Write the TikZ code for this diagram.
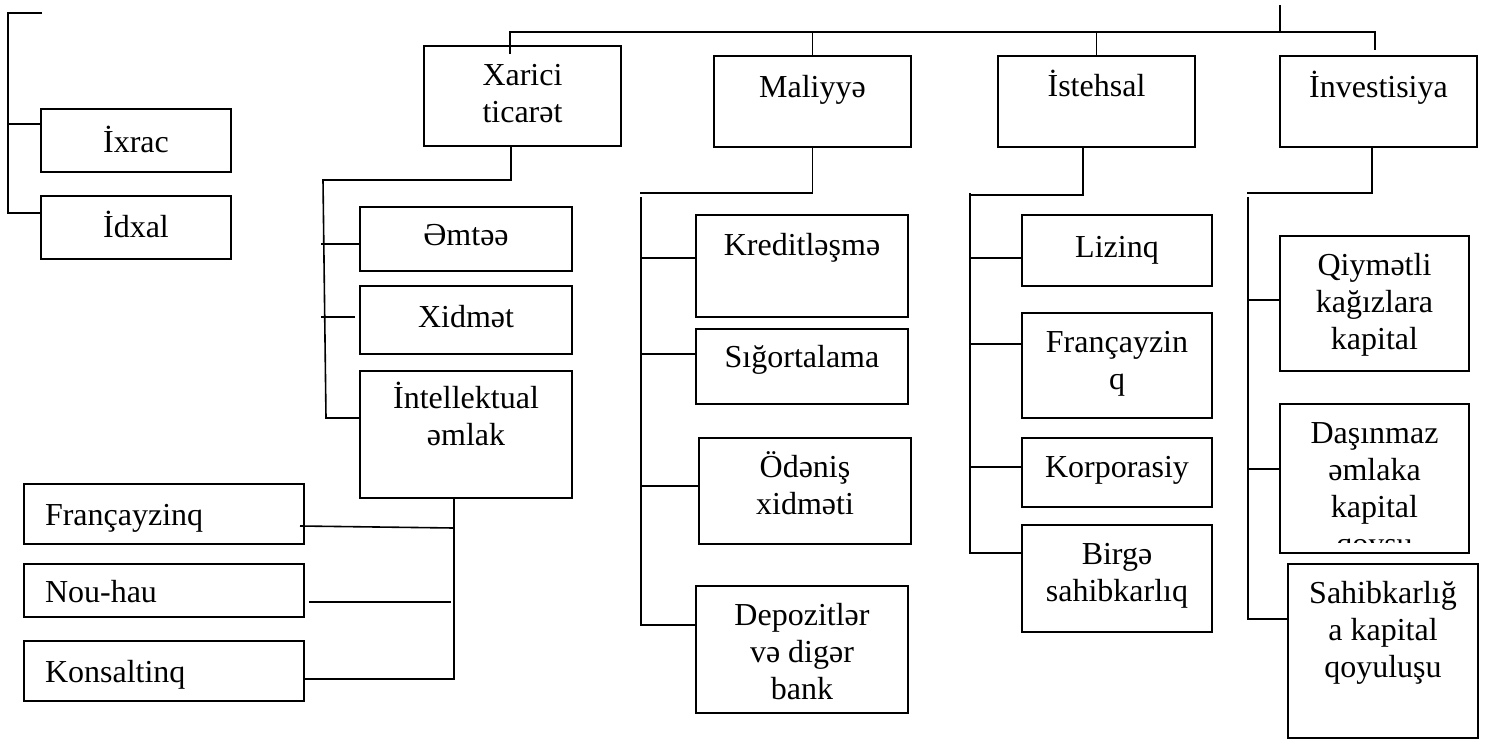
\documentclass[tikz,border=0pt]{standalone}
\usepackage{fontspec}
\setmainfont{Liberation Serif}
\usetikzlibrary{fit}
\tikzset{
  bx/.style={draw, line width=1.7pt, inner sep=0pt, outer sep=0pt},
  ln/.style={line width=1.6pt},
  lbl/.style={inner sep=0pt, outer sep=0pt, anchor=base, font=\fontsize{32}{37}\selectfont},
  lbll/.style={lbl, anchor=base west},
}
\newcommand\ctext[1]{\parbox[t]{260pt}{\centering #1}}
\begin{document}
\begin{tikzpicture}[x=1pt,y=-1pt]
\useasboundingbox (0,0) rectangle (1486,740);

% boxes
\node[bx, fit={(41,109)(231,172)}] (ixrac) {};
\node[bx, fit={(41,196)(231,259)}] (idxal) {};
\node[bx, fit={(424,46)(621,146)}] (xarici) {};
\node[bx, fit={(714,56)(911,147)}] (maliyye) {};
\node[bx, fit={(998,56)(1195,147)}] (istehsal) {};
\node[bx, fit={(1280,56)(1477,147)}] (invest) {};
\node[bx, fit={(360,207)(572,271)}] (emtee) {};
\node[bx, fit={(360,286)(572,354)}] (xidmet) {};
\node[bx, fit={(360,371)(572,498)}] (intel) {};
\node[bx, fit={(24,484)(304,544)}] (franc) {};
\node[bx, fit={(24,564)(304,617)}] (nouhau) {};
\node[bx, fit={(24,641)(304,701)}] (konsalt) {};
\node[bx, fit={(696,215)(908,317)}] (kredit) {};
\node[bx, fit={(696,329)(908,404)}] (sigorta) {};
\node[bx, fit={(699,438)(911,544)}] (odenis) {};
\node[bx, fit={(696,586)(908,713)}] (depozit) {};
\node[bx, fit={(1022,215)(1212,286)}] (lizinq) {};
\node[bx, fit={(1022,313)(1212,418)}] (francI) {};
\node[bx, fit={(1022,438)(1212,507)}] (korpor) {};
\node[bx, fit={(1022,525)(1212,632)}] (birge) {};
\node[bx, fit={(1280,236)(1469,371)}] (qiymet) {};
\node[bx, fit={(1280,404)(1469,553)}] (dasinmaz) {};
\node[bx, fit={(1288,564)(1478,738)}] (sahib) {};

% labels
\node[lbl] (ixrac-t) at (136,152) {İxrac};
\node[lbl] (idxal-t) at (136,237) {İdxal};
\node[lbl] (xarici-t) at (522.5,85) {\ctext{Xarici\\ticarət}};
\node[lbl] (maliyye-t) at (812.5,97) {Maliyyə};
\node[lbl] (istehsal-t) at (1096.5,96) {İstehsal};
\node[lbl] (invest-t) at (1378.5,97) {İnvestisiya};
\node[lbl] (emtee-t) at (466,245) {Əmtəə};
\node[lbl] (xidmet-t) at (466,327) {Xidmət};
\node[lbl] (intel-t) at (466,408) {\ctext{İntellektual\\əmlak}};
\node[lbll] (franc-t) at (45,525) {Françayzinq};
\node[lbll] (nouhau-t) at (45,602) {Nou-hau};
\node[lbll] (konsalt-t) at (45,682) {Konsaltinq};
\node[lbl] (kredit-t) at (802,255) {Kreditləşmə};
\node[lbl] (sigorta-t) at (802,367) {Sığortalama};
\node[lbl] (odenis-t) at (805,477) {\ctext{Ödəniş\\xidməti}};
\node[lbl] (depozit-t) at (802,625) {\ctext{Depozitlər\\və digər\\bank}};
\node[lbl] (lizinq-t) at (1117,257) {Lizinq};
\node[lbl] (francI-t) at (1117,352) {\ctext{Françayzin\\q}};
\node[lbl] (korpor-t) at (1117,477) {Korporasiy};
\node[lbl] (birge-t) at (1117,564) {\ctext{Birgə\\sahibkarlıq}};
\node[lbl] (qiymet-t) at (1374.5,275) {\ctext{Qiymətli\\kağızlara\\kapital}};
\begin{scope}
  \clip (1281,405) rectangle (1468,542);
  \node[lbl] (dasinmaz-t) at (1374.5,443) {\ctext{Daşınmaz\\əmlaka\\kapital\\qoysu}};
\end{scope}
\node[lbl] (sahib-t) at (1383,603) {\ctext{Sahibkarlığ\\a kapital\\qoyuluşu}};

% top-left bracket
\coordinate (tl) at (42,13);
\draw[ln] (tl) -- (8,13) -- (8,213) -- (idxal.west |- 0,213);
\draw[ln] (8,124) -- (ixrac.west |- 0,124);

% top bus
\coordinate (root) at (1280,5);
\coordinate (xtop) at (510,54);
\coordinate (itop) at (1375,50);
\draw[ln] (root) -- (1280,32);
\draw[ln] (xtop) -- (510,32) -- (1375,32) -- (itop);
\draw[ln] (maliyye.north |- 0,32) -- (maliyye.north);
\draw[ln] (istehsal.north |- 0,32) -- (istehsal.north);

% Xarici ticaret
\draw[ln] (xarici.south -| 511,0) -- (511,180) -- (323,180) -- (326,418) -- (intel.west |- 0,418);
\draw[ln] (321,244) -- (emtee.west |- 0,244);
\coordinate (xidend) at (355,317);
\draw[ln] (321,317) -- (xidend);

% Intellektual emlak
\draw[ln] (intel.south -| 454,0) -- (454,679) -- (konsalt.east |- 0,679);
\coordinate (fr1) at (300,526);
\draw[ln] (fr1) -- (454,528);
\coordinate (nh1) at (309,602);
\coordinate (nh2) at (451,602);
\draw[ln] (nh1) -- (nh2);

% Maliyye
\draw[ln] (maliyye.south) -- (812.5,193) -- (640,193);
\draw[ln] (641,197) -- (641,625) -- (depozit.west |- 0,625);
\draw[ln] (641,258) -- (kredit.west |- 0,258);
\draw[ln] (641,354) -- (sigorta.west |- 0,354);
\draw[ln] (641,486) -- (odenis.west |- 0,486);

% Istehsal
\draw[ln] (istehsal.south -| 1083,0) -- (1083,195) -- (970,195);
\draw[ln] (970,193) -- (970,553) -- (birge.west |- 0,553);
\draw[ln] (970,258) -- (lizinq.west |- 0,258);
\draw[ln] (970,344) -- (francI.west |- 0,344);
\draw[ln] (970,467) -- (korpor.west |- 0,467);

% Investisiya
\draw[ln] (invest.south -| 1372,0) -- (1372,193) -- (1247,193);
\draw[ln] (1248,197) -- (1248,619) -- (sahib.west |- 0,619);
\draw[ln] (1248,300) -- (qiymet.west |- 0,300);
\draw[ln] (1248,469) -- (dasinmaz.west |- 0,469);
\end{tikzpicture}
\end{document}
